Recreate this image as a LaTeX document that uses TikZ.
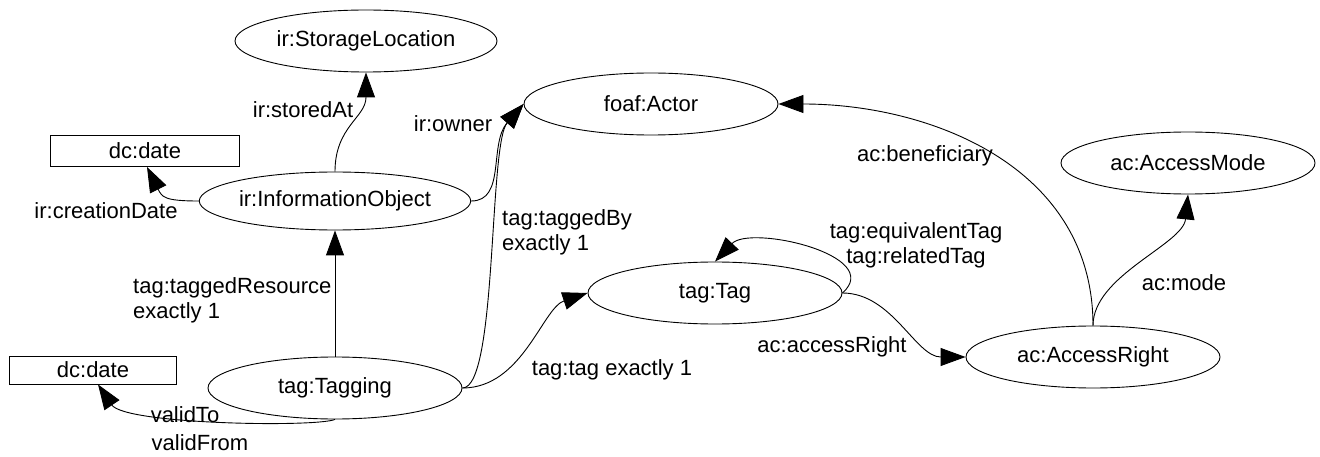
\documentclass[tikz,border=0pt]{standalone}
\usepackage{fontspec}
\setmainfont{Liberation Sans}
\usetikzlibrary{shapes.geometric,arrows.meta}
\begin{document}
\begin{tikzpicture}[x=1pt,y=-1pt,
  font=\fontsize{22}{25}\selectfont,
  cls/.style={ellipse,draw,line width=0.9pt,minimum width=254pt,minimum height=62pt,inner sep=0pt},
  lit/.style={rectangle,draw,line width=0.9pt,inner sep=0pt},
  rel/.style={line width=0.9pt,-{Triangle[length=25pt,width=18pt]}},
  lbl/.style={inner sep=0pt}]
\useasboundingbox (0,0) rectangle (1320,457);
% nodes
\node[cls,minimum width=262pt] (sl) at (366,41) {ir:StorageLocation};
\node[cls,minimum height=58pt] (io) at (335,201) {ir:InformationObject};
\node[lit,minimum width=189pt,minimum height=31pt] (d1) at (145,151) {dc:date};
\node[cls] (actor) at (651,104) {foaf:Actor};
\node[cls] (am) at (1188,163) {ac:AccessMode};
\node[cls] (tag) at (715,293) {tag:Tag};
\node[cls] (ar) at (1093,357) {ac:AccessRight};
\node[cls] (tg) at (335,388) {tag:Tagging};
\node[lit,minimum width=167pt,minimum height=28pt] (d2) at (93,370) {dc:date};
% connectors
\draw[rel] (io.north) .. controls +(0,-45) and +(0,45) .. (sl.south);
\draw[rel] (io.west) .. controls +(-35,0) and +(15,30) .. ([xshift=2pt]d1.south);
\draw[rel] (io.east) .. controls +(35,0) and +(-35,40) .. (actor.west);
\draw[rel] (tg.east) .. controls +(35,0) and +(-35,40) .. (actor.west);
\draw[rel] (tg.north) -- (io.south);
\draw[rel] (tg.east) .. controls +(60,0) and +(-45,15) .. (tag.west);
\draw[rel] (tag.east) .. controls +(43,-38) and +(35,-37) .. (tag.north);
\draw[rel] (tag.east) .. controls +(50,0) and +(-50,0) .. (ar.west);
\draw[rel] (ar.north) .. controls +(0,-160) and +(150,0) .. (actor.east);
\draw[rel] (ar.north) .. controls +(0,-50) and +(-5,50) .. (am.south);
\draw[rel] (tg.south) .. controls +(-20,8) and +(27,40) .. ([xshift=5pt]d2.south);
% labels
\node[lbl] (lstored) at (303,110) {ir:storedAt};
\node[lbl] (lowner) at (453,124) {ir:owner};
\node[lbl] (lcreat) at (106,211) {ir:creationDate};
\node[lbl,anchor=west,align=left] (ltres) at (133,300) {tag:taggedResource\\exactly 1};
\node[lbl,anchor=west,align=left] (ltby) at (502,232) {tag:taggedBy\\exactly 1};
\node[lbl] (ltag) at (612,370) {tag:tag exactly 1};
\node[lbl,align=center] (lequiv) at (916,245) {tag:equivalentTag\\tag:relatedTag};
\node[lbl] (lacc) at (832,347) {ac:accessRight};
\node[lbl] (lben) at (925,156) {ac:beneficiary};
\node[lbl] (lmode) at (1184,283) {ac:mode};
\node[lbl] (lvto) at (185,415) {validTo};
\node[lbl] (lvfrom) at (200,443) {validFrom};
\end{tikzpicture}
\end{document}
